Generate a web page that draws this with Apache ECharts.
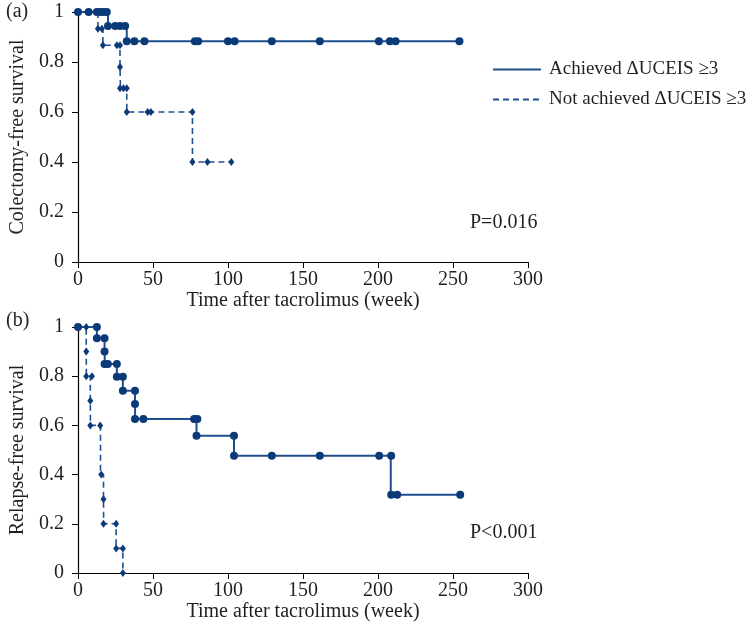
<!DOCTYPE html>
<html>
<head>
<meta charset="utf-8">
<script src="https://cdn.jsdelivr.net/npm/echarts@6/dist/echarts.min.js"></script>
<style>
html,body{margin:0;padding:0;background:#fff;}
#chart{width:751px;height:631px;}
</style>
</head>
<body>
<div id="chart"></div>
<script>
// ---------- DATA ----------
const xTicks = [0, 50, 100, 150, 200, 250, 300];
const yTicks = [0, 0.2, 0.4, 0.6, 0.8, 1];
const seriesNames = ['Achieved \u0394UCEIS \u22653', 'Not achieved \u0394UCEIS \u22653'];

// Panel (a): colectomy-free survival — step vertices [week, survival]
const aAchievedSteps = [[0,1],[20,0.944],[32.5,0.883],[254.3,0.883]];
const aAchievedMarks = [[0,1],[7.1,1],[12.6,1],[14.8,1],[17.1,1],[19.2,1],
  [20,0.944],[24.8,0.944],[28.1,0.944],[31.4,0.944],
  [32.5,0.883],[37.6,0.883],[44.3,0.883],[77.9,0.883],[80.1,0.883],[100,0.883],[104.4,0.883],
  [129.2,0.883],[161.2,0.883],[200.6,0.883],[207.9,0.883],[211.7,0.883],[254.3,0.883]];
const aNotSteps = [[0,1],[13.3,0.933],[16.6,0.867],[28,0.78],[28.3,0.695],[32.5,0.6],[76.3,0.4],[102.2,0.4]];
const aNotMarks = [[7.5,1],[13.3,0.933],[15.9,0.933],[16.6,0.867],[25.9,0.867],[28,0.867],[28,0.78],
  [28,0.695],[30.3,0.695],[32.5,0.695],[32.5,0.6],[46.4,0.6],[48.6,0.6],[76.3,0.6],
  [76.3,0.4],[86.3,0.4],[102.2,0.4]];

// Panel (b): relapse-free survival
const bAchievedSteps = [[0,1],[12.6,0.954],[17.7,0.9],[17.9,0.85],[25.9,0.798],[29.9,0.741],[38,0.687],[38.1,0.626],
  [79,0.558],[104,0.477],[208.5,0.318],[254.8,0.318]];
const bAchievedMarks = [[0,1],[12.6,1],[12.6,0.954],[17.7,0.954],[17.7,0.9],[17.7,0.85],[19.9,0.85],[25.9,0.85],
  [25.9,0.798],[29.9,0.798],[29.9,0.741],[38,0.741],[38,0.687],[38,0.626],[43.6,0.626],[77.4,0.626],[79.6,0.626],
  [79,0.558],[104,0.558],[104,0.477],[129.2,0.477],[161.2,0.477],[200.8,0.477],[208.8,0.477],
  [208.8,0.318],[212.8,0.318],[254.8,0.318]];
const bNotSteps = [[0,1],[5.5,0.9],[5.6,0.8],[8.2,0.7],[8.3,0.6],[15,0.4],[17,0.3],[17.1,0.2],[25.4,0.1],[29.9,0],[29.9,0]];
const bNotMarks = [[5.5,1],[5.5,0.9],[5.5,0.8],[9.3,0.8],[8.2,0.7],[8.2,0.6],[14.8,0.6],[15.5,0.4],[17,0.3],
  [17,0.2],[25.4,0.2],[25.4,0.1],[29.9,0.1],[29.9,0]];

// ---------- STYLE ----------
const FONT = '"Liberation Serif","DejaVu Serif",serif';
const FS = 20;
const TXT = '#231f20';
const LINE = '#1f4f8f';
const MARK = '#0b3a78';

function xAxis(gi){
  return {
    type:'value', gridIndex:gi, min:0, max:300, interval:50,
    name:'Time after tacrolimus (week)', nameLocation:'middle', nameGap:29,
    nameTextStyle:{fontFamily:FONT,fontSize:FS,color:TXT},
    axisLine:{show:true,lineStyle:{color:'#000',width:1.2}},
    axisTick:{show:true,inside:false,length:6,lineStyle:{color:'#000'}},
    axisLabel:{fontFamily:FONT,fontSize:FS,color:TXT,margin:8},
    splitLine:{show:false}
  };
}
function yAxis(gi,name){
  return {
    type:'value', gridIndex:gi, min:0, max:1, interval:0.2,
    name:name, nameLocation:'middle', nameGap:50,
    nameTextStyle:{fontFamily:FONT,fontSize:FS,color:TXT},
    axisLine:{show:true,lineStyle:{color:'#000',width:1.2}},
    axisTick:{show:true,length:6,lineStyle:{color:'#000'}},
    axisLabel:{fontFamily:FONT,fontSize:FS,color:TXT,margin:14,
      formatter:v=> (v===0||v===1)? String(v) : v.toFixed(1)},
    splitLine:{show:false}
  };
}
function stepSeries(name, gi, data, dashed){
  return {
    name:name, type:'line', xAxisIndex:gi, yAxisIndex:gi, step:'end',
    data:data, symbol:'none', showSymbol:false, silent:true, z:2,
    lineStyle:{color:LINE, width: dashed?1.6:2, type: dashed?[6,4]:'solid'},
    itemStyle:{color:LINE}
  };
}
function markSeries(gi, data, dashed){
  return {
    type:'scatter', xAxisIndex:gi, yAxisIndex:gi, data:data, z:3, silent:true,
    symbol: dashed?'diamond':'circle', symbolSize: dashed?[6,8]:8,
    itemStyle:{color:MARK, opacity:1}
  };
}

const chart = echarts.init(document.getElementById('chart'), null, {renderer:'canvas'});
chart.setOption({
  animation:false,
  backgroundColor:'#fff',
  grid:[
    {left:76, top:12, width:452, height:250},
    {left:76, top:327, width:452, height:246}
  ],
  xAxis:[xAxis(0), xAxis(1)],
  yAxis:[yAxis(0,'Colectomy-free survival'), yAxis(1,'Relapse-free survival')],
  legend:{
    data:seriesNames, orient:'vertical', left:487, top:55, itemWidth:48, itemHeight:14, itemGap:11,
    itemStyle:{opacity:0},
    textStyle:{fontFamily:FONT,fontSize:19,color:TXT,padding:[0,0,0,3]}, selectedMode:false
  },
  graphic:[
    {type:'text', left:6, top:2, style:{text:'(a)', font:FS+'px '+FONT, fill:TXT}},
    {type:'text', left:6, top:311, style:{text:'(b)', font:FS+'px '+FONT, fill:TXT}},
    {type:'text', left:470, top:213, style:{text:'P=0.016', font:FS+'px '+FONT, fill:TXT}},
    {type:'text', left:470, top:523, style:{text:'P<0.001', font:FS+'px '+FONT, fill:TXT}}
  ],
  series:[
    stepSeries(seriesNames[0],0,aAchievedSteps,false),
    stepSeries(seriesNames[1],0,aNotSteps,true),
    markSeries(0,aAchievedMarks,false),
    markSeries(0,aNotMarks,true),
    stepSeries(seriesNames[0],1,bAchievedSteps,false),
    stepSeries(seriesNames[1],1,bNotSteps,true),
    markSeries(1,bAchievedMarks,false),
    markSeries(1,bNotMarks,true)
  ]
});
</script>
</body>
</html>
